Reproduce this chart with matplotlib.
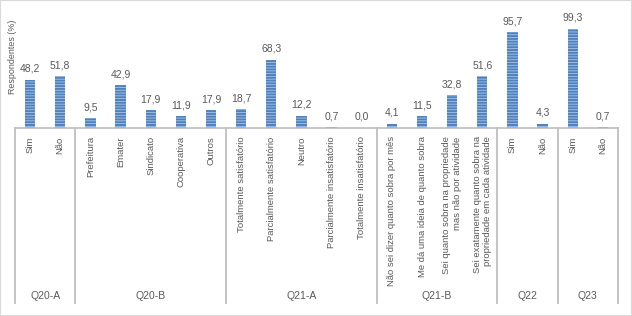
import matplotlib
matplotlib.use('Agg')
import matplotlib.pyplot as plt
import matplotlib.transforms as mtransforms
from matplotlib.patches import Rectangle
import numpy as np

# Dados
categorias = ['Sim', 'Não',
              'Prefeitura', 'Emater', 'Sindicato', 'Cooperativa', 'Outros',
              'Totalmente satisfatório', 'Parcialmente satisfatório', 'Neutro',
              'Parcialmente insatisfatório', 'Totalmente insatisfatório',
              'Não sei dizer quanto sobra por mês',
              'Me dá uma ideia de quanto sobra',
              'Sei quanto sobra na propriedade\nmas não por atividade',
              'Sei exatamente quanto sobra na\npropriedade em cada atividade',
              'Sim', 'Não',
              'Sim', 'Não']
valores = [48.2, 51.8,
           9.5, 42.9, 17.9, 11.9, 17.9,
           18.7, 68.3, 12.2, 0.7, 0.0,
           4.1, 11.5, 32.8, 51.6,
           95.7, 4.3,
           99.3, 0.7]
grupos = ['Q20-A', 'Q20-B', 'Q21-A', 'Q21-B', 'Q22', 'Q23']
tamanho_grupos = [2, 5, 5, 4, 2, 2]

# cores
c_barra = '#4f81bd'
c_hatch = '#a9c5ea'
c_texto = '#595959'
c_linha = '#bfbfbf'

fonte = ['Liberation Sans Narrow', 'Liberation Sans', 'DejaVu Sans']
plt.rcParams['font.family'] = fonte
plt.rcParams['hatch.linewidth'] = 0.6

fig = plt.figure(figsize=[6.32, 3.16], dpi=100)
ax = fig.add_axes([15/632, 1 - 128/316, 603/632, 120/316])

x = np.arange(len(valores))
bars = ax.bar(x, valores, width=0.34, color=c_barra, edgecolor=c_hatch,
              hatch='------', linewidth=0)
for xi, v in zip(x, valores):
    ax.text(xi, v + 6, ('%.1f' % v).replace('.', ','), ha='center', va='bottom',
            fontsize=7.5, color=c_texto)

ax.set_xlim(-0.5, len(valores) - 0.5)
ax.set_ylim(0, 120)
ax.set_yticks([])
ax.set_xticks(x)
ax.set_xticklabels(categorias, rotation=90, fontsize=6.8, color=c_texto,
                   multialignment='right')
ax.tick_params(axis='x', length=0, pad=6)
for s in ['top', 'right', 'left']:
    ax.spines[s].set_visible(False)
ax.spines['bottom'].set_color(c_linha)
ax.spines['bottom'].set_linewidth(1.2)

ax.set_ylabel('Respondentes (%)', fontsize=6.4, color=c_texto)
ax.yaxis.set_label_coords(0.003, 0.59)

# separadores e rótulos dos grupos
trans = mtransforms.blended_transform_factory(ax.transData, ax.transAxes)
limites = np.concatenate([[0], np.cumsum(tamanho_grupos)]) - 0.5
for b in limites:
    ax.plot([b, b], [0, -175/120], color=c_linha, lw=1.3, transform=trans,
            clip_on=False)
for g, a, b in zip(grupos, limites[:-1], limites[1:]):
    ax.text((a + b) / 2, -168/120, g, transform=trans, ha='center', va='center',
            fontsize=7.5, color=c_texto)

# moldura da figura
fig.patches.append(Rectangle((0, 0), 1, 1, transform=fig.transFigure,
                             fill=False, edgecolor='#d9d9d9', lw=1.5))

fig.savefig('out.png', dpi=100)
